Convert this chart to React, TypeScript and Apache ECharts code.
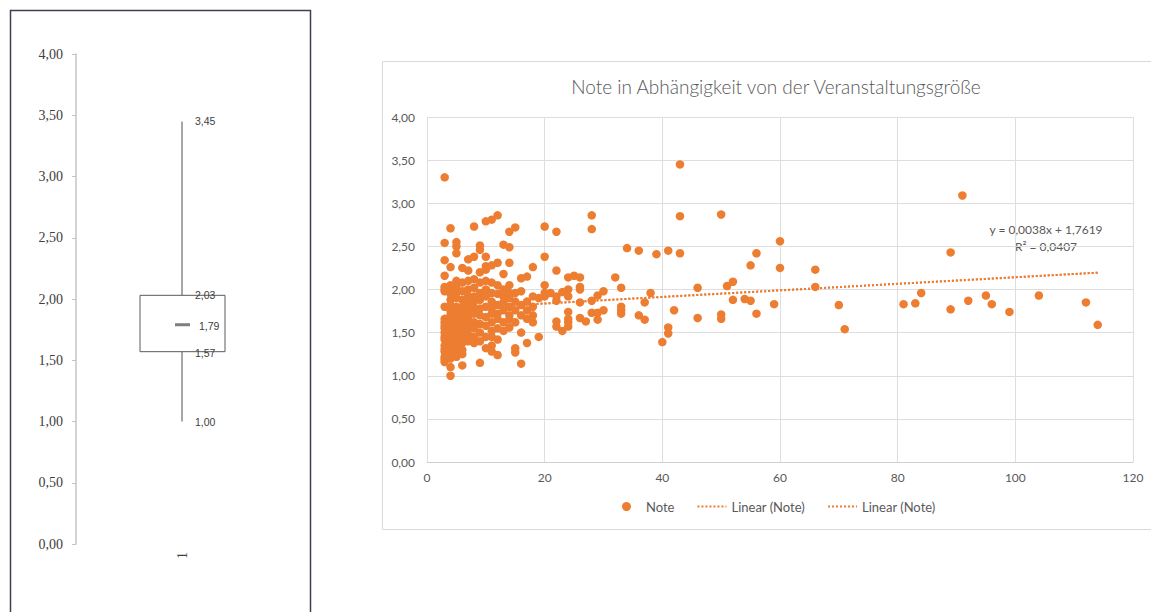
import { useEffect, useRef } from 'react';
import * as echarts from 'echarts';

// ---------- Box plot (left panel) ----------
const boxCategories = ['1'];
// min, Q1, median, Q3, max
const boxStats = [1.0, 1.57, 1.79, 2.03, 3.45];

// ---------- Scatter (right panel) ----------
const scatterTitle = 'Note in Abhängigkeit von der Veranstaltungsgröße';
const seriesName = 'Note';
const trendName = 'Linear (Note)';

// event size -> grades observed at that size (dense part of the cloud)
const denseColumns: [number, number[]][] = [
  [3, [3.3, 2.54, 2.34, 2.16, 2.03, 2.0, 1.98, 1.8, 1.66, 1.62, 1.58, 1.55, 1.5, 1.45, 1.42, 1.35, 1.31, 1.28, 1.22, 1.19, 1.16]],
  [4, [2.71, 2.26, 2.05, 2.0, 1.95, 1.88, 1.82, 1.75, 1.7, 1.62, 1.58, 1.52, 1.48, 1.4, 1.35, 1.3, 1.25, 1.2, 1.1, 1.0]],
  [5, [2.55, 2.5, 2.42, 2.1, 2.02, 1.96, 1.9, 1.8, 1.75, 1.7, 1.65, 1.6, 1.52, 1.45, 1.4, 1.33, 1.28, 1.22]],
  [6, [2.25, 2.08, 1.98, 1.88, 1.8, 1.72, 1.65, 1.58, 1.5, 1.45, 1.38, 1.3, 1.25, 1.12]],
  [7, [2.35, 2.22, 2.1, 2.0, 1.92, 1.85, 1.8, 1.75, 1.68, 1.6, 1.55, 1.48, 1.4]],
  [8, [2.73, 2.38, 2.12, 2.02, 1.92, 1.86, 1.78, 1.72, 1.62, 1.55, 1.45, 1.38]],
  [9, [2.51, 2.46, 2.2, 2.08, 1.96, 1.88, 1.78, 1.7, 1.6, 1.5, 1.4, 1.15]],
  [10, [2.79, 2.38, 2.27, 2.23, 2.1, 2.0, 1.92, 1.8, 1.68, 1.58, 1.45, 1.32]],
  [11, [2.81, 2.28, 2.08, 1.96, 1.86, 1.78, 1.72, 1.62, 1.52, 1.45, 1.35, 1.28]],
  [12, [2.86, 2.31, 2.05, 1.95, 1.82, 1.72, 1.66, 1.55, 1.42, 1.24]],
  [13, [2.52, 2.18, 2.0, 1.92, 1.85, 1.76, 1.62, 1.52]],
  [14, [2.67, 2.49, 2.31, 2.05, 1.96, 1.9, 1.8, 1.7, 1.65, 1.56]],
  [15, [2.72, 1.96, 1.86, 1.76, 1.62, 1.32, 1.27]],
  [16, [2.13, 1.98, 1.82, 1.7, 1.5, 1.14]],
  [17, [2.15, 1.86, 1.76, 1.66, 1.38]],
  [18, [2.26, 1.92, 1.8, 1.7, 1.62]],
  [19, [1.9, 1.45]],
  [20, [2.73, 2.38, 2.05, 1.96, 1.92]],
  [21, [1.96]],
  [22, [2.67, 2.22, 1.92, 1.87, 1.63, 1.57]],
  [23, [1.97, 1.52]],
  [24, [2.14, 2.0, 1.92, 1.74, 1.66, 1.62, 1.57]],
  [25, [2.16]],
  [26, [2.14, 2.03, 2.0, 1.85, 1.67]],
  [27, [1.63]],
  [28, [2.86, 2.7, 1.87, 1.73]],
  [29, [1.93, 1.73, 1.65]],
  [30, [1.98, 1.76]],
];

// sparse part of the cloud: [event size, grade]
const sparsePoints: [number, number][] = [
  [32, 2.14], [33, 2.02], [33, 1.8], [33, 1.76], [33, 1.72], [34, 2.48],
  [36, 2.45], [36, 1.7], [37, 1.85], [37, 1.65], [38, 1.96], [39, 2.41],
  [40, 1.39], [41, 2.45], [41, 1.56], [41, 1.49], [42, 1.76],
  [43, 3.45], [43, 2.85], [43, 2.42], [46, 2.02], [46, 1.67],
  [50, 2.87], [50, 1.71], [50, 1.66], [51, 2.04], [52, 2.09], [52, 1.88],
  [54, 1.89], [55, 2.28], [55, 1.87], [56, 2.42], [56, 1.72], [59, 1.83],
  [60, 2.56], [60, 2.25], [66, 2.23], [66, 2.03], [70, 1.82], [71, 1.54],
  [81, 1.83], [83, 1.84], [84, 1.96], [89, 2.43], [89, 1.77], [91, 3.09],
  [92, 1.87], [95, 1.93], [96, 1.83], [99, 1.74], [104, 1.93], [112, 1.85],
  [114, 1.59],
];

// trendline as printed on the chart
const trendSlope = 0.0038;
const trendIntercept = 1.7619;
const trendR2 = 0.0407;

const ORANGE = '#ED7D31';
const GREY_TXT = '#595959';
const EXCEL_FONT = 'Lato, "Open Sans", sans-serif';

const fmt = (v: number, d = 2) => v.toFixed(d).replace('.', ',');

export default function App() {
  const ref = useRef<HTMLDivElement>(null);

  useEffect(() => {
    if (!ref.current) return;
    const chart = echarts.init(ref.current, undefined, { renderer: 'svg' });

    const notePoints: [number, number][] = [];
    denseColumns.forEach(([x, ys]) => ys.forEach((y) => notePoints.push([x, y])));
    sparsePoints.forEach((p) => notePoints.push(p));

    const xs = notePoints.map((p) => p[0]);
    const xMin = Math.min(...xs);
    const xMax = Math.max(...xs);
    const trendPoints = [
      [xMin, trendSlope * xMin + trendIntercept],
      [xMax, trendSlope * xMax + trendIntercept],
    ];

    const option: any = {
      animation: false,
      backgroundColor: '#ffffff',
      title: {
        text: scatterTitle,
        left: 771,
        top: 72,
        textAlign: 'center',
        textStyle: { fontFamily: EXCEL_FONT, fontSize: 19, fontWeight: 300, color: GREY_TXT },
      },
      legend: {
        left: 617,
        top: 495,
        itemWidth: 29,
        itemHeight: 9,
        itemGap: 22,
        textStyle: { fontFamily: EXCEL_FONT, fontSize: 13, color: GREY_TXT },
        data: [
          { name: seriesName, icon: 'circle' },
          { name: trendName, itemStyle: { opacity: 0 } },
          { name: trendName + ' ', itemStyle: { opacity: 0 } },
        ],
      },
      graphic: [
        {
          type: 'rect',
          shape: { x: 10.5, y: 10.5, width: 300, height: 620 },
          style: { fill: 'none', stroke: '#3b4150', lineWidth: 1.5 },
          z: 100,
        },
        {
          type: 'rect',
          shape: { x: 382.5, y: 61.5, width: 820, height: 468 },
          style: { fill: 'none', stroke: '#d9d9d9', lineWidth: 1 },
          z: 100,
        },
        {
          type: 'text',
          x: 1046,
          y: 229,
          style: {
            text: `y = ${fmt(trendSlope, 4)}x + ${fmt(trendIntercept, 4)}`,
            fill: GREY_TXT,
            font: `12px ${EXCEL_FONT}`,
            align: 'center',
            verticalAlign: 'middle',
          },
        },
        {
          type: 'text',
          x: 1046,
          y: 246,
          style: {
            text: `R² = ${fmt(trendR2, 4)}`,
            fill: GREY_TXT,
            font: `12px ${EXCEL_FONT}`,
            align: 'center',
            verticalAlign: 'middle',
          },
        },
      ],
      grid: [
        { left: 76, top: 54, width: 212, height: 490 },
        { left: 427, top: 117, width: 706, height: 345 },
      ],
      xAxis: [
        {
          type: 'category',
          gridIndex: 0,
          data: boxCategories,
          axisLine: { show: false },
          axisTick: { show: false },
          axisLabel: {
            rotate: 90,
            margin: 8,
            fontFamily: '"Liberation Serif", serif',
            fontSize: 14,
            color: '#404040',
          },
        },
        {
          type: 'value',
          gridIndex: 1,
          min: 0,
          max: 120,
          interval: 20,
          axisLine: { show: true, lineStyle: { color: '#d0d0d0', width: 1 } },
          axisTick: { show: false },
          axisLabel: { margin: 9, fontFamily: EXCEL_FONT, fontSize: 12, color: GREY_TXT },
          splitLine: { show: true, lineStyle: { color: '#dedede', width: 1 } },
        },
      ],
      yAxis: [
        {
          type: 'value',
          gridIndex: 0,
          min: 0,
          max: 4,
          interval: 0.5,
          axisLine: { show: true, lineStyle: { color: '#c4c4c4', width: 1.5 } },
          axisTick: { show: true, length: 4, lineStyle: { color: '#c4c4c4', width: 1 } },
          axisLabel: {
            margin: 13,
            fontFamily: '"Liberation Serif", serif',
            fontSize: 14,
            color: '#404040',
            formatter: (v: number) => fmt(v),
          },
          splitLine: { show: false },
        },
        {
          type: 'value',
          gridIndex: 1,
          min: 0,
          max: 4,
          interval: 0.5,
          axisLine: { show: false },
          axisTick: { show: false },
          axisLabel: {
            margin: 12,
            fontFamily: EXCEL_FONT,
            fontSize: 12,
            color: GREY_TXT,
            formatter: (v: number) => fmt(v),
          },
          splitLine: { show: true, lineStyle: { color: '#dedede', width: 1 } },
        },
      ],
      series: [
        {
          type: 'custom',
          name: 'box',
          xAxisIndex: 0,
          yAxisIndex: 0,
          encode: { x: 0, y: [1, 2, 3, 4, 5] },
          data: [[0, ...boxStats]],
          renderItem: (_params: any, api: any) => {
            const lo = api.coord([api.value(0), api.value(1)]);
            const q1 = api.coord([api.value(0), api.value(2)]);
            const med = api.coord([api.value(0), api.value(3)]);
            const q3 = api.coord([api.value(0), api.value(4)]);
            const hi = api.coord([api.value(0), api.value(5)]);
            const cx = lo[0];
            const left = cx - 42;
            const width = 85;
            const labelX = cx + 13;
            const txt = (t: string, x: number, y: number) => ({
              type: 'text',
              style: {
                text: t,
                x,
                y,
                fill: '#404040',
                fontSize: 10.5,
                fontFamily: '"Liberation Sans", Arial, sans-serif',
                align: 'left',
                verticalAlign: 'middle',
              },
              z2: 10,
            });
            return {
              type: 'group',
              children: [
                {
                  type: 'line',
                  shape: { x1: cx, y1: hi[1], x2: cx, y2: q3[1] },
                  style: { stroke: '#8a8a8a', lineWidth: 1.5 },
                },
                {
                  type: 'line',
                  shape: { x1: cx, y1: q1[1], x2: cx, y2: lo[1] },
                  style: { stroke: '#8a8a8a', lineWidth: 1.5 },
                },
                {
                  type: 'rect',
                  shape: { x: left, y: q3[1], width, height: q1[1] - q3[1] },
                  style: { fill: '#ffffff', stroke: '#5a5a5a', lineWidth: 1 },
                },
                {
                  type: 'line',
                  shape: { x1: cx - 7, y1: med[1], x2: cx + 8, y2: med[1] },
                  style: { stroke: '#7f7f7f', lineWidth: 3 },
                },
                txt(fmt(api.value(5)), labelX, hi[1]),
                txt(fmt(api.value(4)), labelX, q3[1]),
                txt(fmt(api.value(3)), labelX + 4, med[1] + 1),
                txt(fmt(api.value(2)), labelX, q1[1] + 1),
                txt(fmt(api.value(1)), labelX, lo[1]),
              ],
            };
          },
        },
        {
          type: 'scatter',
          name: seriesName,
          xAxisIndex: 1,
          yAxisIndex: 1,
          symbol: 'circle',
          symbolSize: 8.5,
          itemStyle: { color: ORANGE, opacity: 1 },
          data: notePoints,
          z: 3,
        },
        {
          type: 'line',
          name: trendName,
          xAxisIndex: 1,
          yAxisIndex: 1,
          symbol: 'none',
          data: trendPoints,
          lineStyle: { color: ORANGE, width: 2, type: [2, 2] },
          itemStyle: { color: ORANGE },
          z: 2,
        },
        {
          type: 'line',
          name: trendName + ' ',
          xAxisIndex: 1,
          yAxisIndex: 1,
          symbol: 'none',
          data: trendPoints,
          lineStyle: { color: ORANGE, width: 2, type: [2, 2] },
          itemStyle: { color: ORANGE },
          z: 2,
        },
      ],
    };

    chart.setOption(option);
    return () => chart.dispose();
  }, []);

  return (
    <div
      ref={ref}
      style={{ position: 'absolute', left: 0, top: 0, width: 1151, height: 612, background: '#fff' }}
    />
  );
}
